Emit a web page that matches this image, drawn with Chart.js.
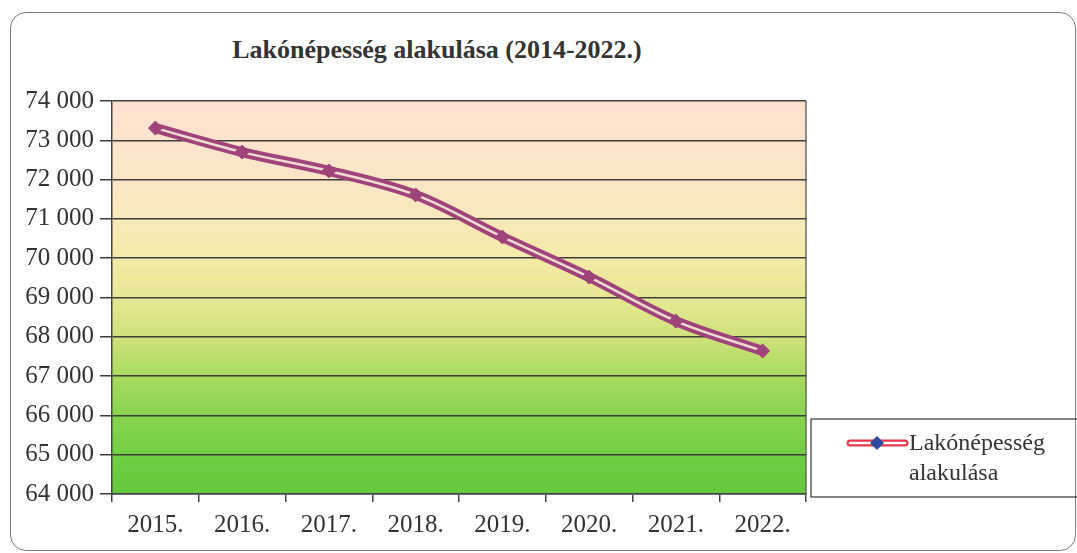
<!DOCTYPE html>
<html>
<head>
<meta charset="utf-8">
<script src="https://cdn.jsdelivr.net/npm/chart.js@4.4.1/dist/chart.umd.min.js"></script>
<style>
    html, body { margin: 0; padding: 0; background: #fff; }
    #wrap { position: relative; width: 1077px; height: 553px; overflow: hidden; }
    #frame {
        position: absolute; left: 10px; top: 12px; width: 1064px; height: 537px;
        border: 1.5px solid #7d7d7d; border-radius: 16px;
    }
    #title {
        position: absolute; left: 0; width: 874px; top: 35px; text-align: center;
        font: bold 26px "Liberation Serif", "Times New Roman", serif; color: #333;
    }
    #populationChart { position: absolute; left: 0; top: 0; }
</style>
</head>
<body>
<div id="wrap">
    <div id="frame"></div>
    <div id="title">Lakónépesség alakulása (2014-2022.)</div>
    <canvas id="populationChart" width="1077" height="553"></canvas>
</div>
<script>
const years = ['2015.', '2016.', '2017.', '2018.', '2019.', '2020.', '2021.', '2022.'];
const population = [73310, 72700, 72220, 71610, 70540, 69520, 68400, 67640];
const seriesLabel = 'Lakónépesség alakulása';
const yMin = 64000;
const yMax = 74000;
const yStep = 1000;

const lineColor = '#a0437a';
const textColor = '#333333';
const serifFamily = "'Liberation Serif', 'Times New Roman', serif";

function formatThousands(v) {
    return String(v).replace(/\B(?=(\d{3})+(?!\d))/g, ' ');
}

// plot area gradient + right border
const plotBackground = {
    id: 'plotBackground',
    beforeDraw(chart) {
        const { ctx, chartArea: a } = chart;
        const g = ctx.createLinearGradient(0, a.top, 0, a.bottom);
        g.addColorStop(0, '#fde1cf');
        g.addColorStop(0.2, '#fbe5c6');
        g.addColorStop(0.3, '#f9e8ba');
        g.addColorStop(0.4, '#f4eaa8');
        g.addColorStop(0.5, '#e6e893');
        g.addColorStop(0.6, '#cfe27c');
        g.addColorStop(0.7, '#a9da60');
        g.addColorStop(0.8, '#89d44f');
        g.addColorStop(0.9, '#72ce43');
        g.addColorStop(1, '#64c93c');
        ctx.save();
        ctx.fillStyle = g;
        ctx.fillRect(a.left, a.top, a.right - a.left, a.bottom - a.top);
        ctx.strokeStyle = '#6a6a6a';
        ctx.lineWidth = 1.5;
        ctx.beginPath();
        ctx.moveTo(a.right, a.top);
        ctx.lineTo(a.right, a.bottom);
        ctx.stroke();
        ctx.restore();
    }
};

// legend box drawn on the canvas
const boxLegend = {
    id: 'boxLegend',
    afterDraw(chart) {
        const ctx = chart.ctx;
        ctx.save();
        ctx.strokeStyle = '#333';
        ctx.lineWidth = 1.2;
        ctx.strokeRect(811, 419, 280, 78);

        ctx.lineCap = 'round';
        ctx.strokeStyle = '#e6394a';
        ctx.lineWidth = 7;
        ctx.beginPath(); ctx.moveTo(850, 443); ctx.lineTo(905, 443); ctx.stroke();
        ctx.strokeStyle = '#ffffff';
        ctx.lineWidth = 2.5;
        ctx.beginPath(); ctx.moveTo(850, 443); ctx.lineTo(905, 443); ctx.stroke();

        ctx.fillStyle = '#2b4aa0';
        ctx.beginPath();
        ctx.moveTo(877, 436); ctx.lineTo(884, 443); ctx.lineTo(877, 450); ctx.lineTo(870, 443);
        ctx.closePath(); ctx.fill();

        ctx.fillStyle = textColor;
        ctx.font = '24px ' + serifFamily;
        ctx.textBaseline = 'middle';
        ctx.textAlign = 'left';
        const parts = seriesLabel.split(' ');
        ctx.fillText(parts[0], 909, 444);
        ctx.fillText(parts[1], 909, 474);
        ctx.restore();
    }
};

const ctx = document.getElementById('populationChart').getContext('2d');
new Chart(ctx, {
    type: 'line',
    data: {
        labels: years,
        datasets: [{
            label: seriesLabel,
            data: population,
            borderColor: lineColor,
            borderWidth: 10,
            tension: 0.35,
            pointRadius: 0,
            order: 3
        }, {
            label: 'inner',
            data: population,
            borderColor: 'rgba(253, 246, 226, 0.85)',
            borderWidth: 2.5,
            tension: 0.35,
            pointRadius: 0,
            order: 2
        }, {
            label: 'markers',
            data: population,
            showLine: false,
            pointStyle: 'rectRot',
            pointRadius: 7,
            pointBackgroundColor: lineColor,
            pointBorderColor: lineColor,
            pointBorderWidth: 1,
            order: 1
        }]
    },
    options: {
        responsive: false,
        animation: false,
        layout: { padding: { left: 14, top: 101, right: 271, bottom: 5 } },
        plugins: {
            legend: { display: false },
            title: { display: false },
            tooltip: { enabled: false }
        },
        scales: {
            x: {
                offset: true,
                grid: {
                    offset: true,
                    drawOnChartArea: false,
                    color: '#444',
                    lineWidth: 1.5,
                    tickLength: 8
                },
                border: { color: '#444', width: 1.5 },
                ticks: {
                    color: textColor,
                    padding: 8,
                    font: { family: serifFamily, size: 25 }
                }
            },
            y: {
                min: yMin,
                max: yMax,
                afterFit(scale) { scale.width = 98; },
                grid: {
                    color: '#3d3d3d',
                    lineWidth: 1.5,
                    tickLength: 12
                },
                border: { color: '#444', width: 1.5 },
                ticks: {
                    stepSize: yStep,
                    color: textColor,
                    padding: 6,
                    font: { family: serifFamily, size: 25 },
                    callback: v => formatThousands(v)
                }
            }
        }
    },
    plugins: [plotBackground, boxLegend]
});
</script>
</body>
</html>
